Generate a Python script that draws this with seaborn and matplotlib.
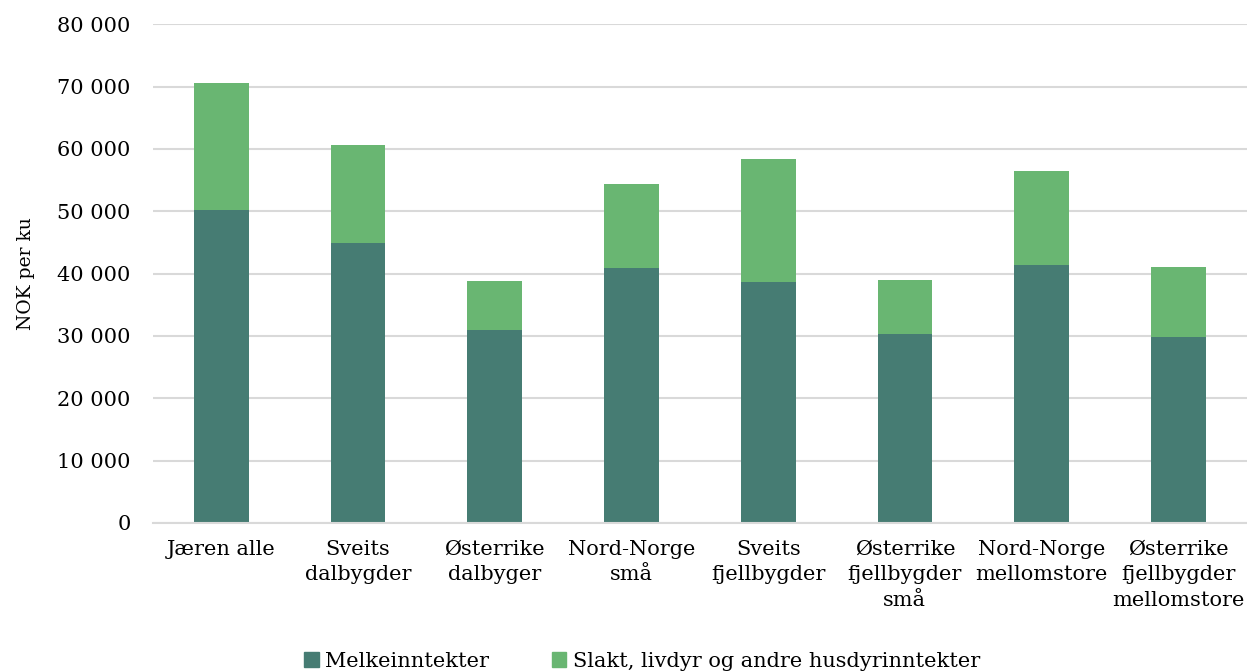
import pandas as pd
import numpy as np
import matplotlib.pyplot as plt
import seaborn as sns
from matplotlib.ticker import FuncFormatter
from matplotlib.patches import Patch

# Data
kategorier = ['Jæren alle', 'Sveits\ndalbygder', 'Østerrike\ndalbyger', 'Nord-Norge\nsmå',
              'Sveits\nfjellbygder', 'Østerrike\nfjellbygder\nsmå', 'Nord-Norge\nmellomstore',
              'Østerrike\nfjellbygder\nmellomstore']
melk = [50200, 44900, 30900, 40900, 38600, 30300, 41300, 29800]
slakt = [20300, 15700, 7900, 13400, 19700, 8600, 15100, 11200]

mork = '#467c73'
lys = '#69b672'

df = pd.DataFrame({'kategori': kategorier, 'melk': melk, 'slakt': slakt})
df['total'] = df['melk'] + df['slakt']

sns.set_style('white')
plt.rcParams['font.family'] = ['DejaVu Serif']
plt.rcParams['text.color'] = 'black'

fig = plt.figure(figsize=(12.47, 6.71), dpi=100)
ax = fig.add_axes([0.1227, 0.2206, 0.877, 0.7434])

# stacked bars: total in light green, milk on top in dark green
sns.barplot(data=df, x='kategori', y='total', color=lys, width=0.4, saturation=1,
            linewidth=0, ax=ax)
sns.barplot(data=df, x='kategori', y='melk', color=mork, width=0.4, saturation=1,
            linewidth=0, ax=ax)

ax.set_ylim(0, 80000)
ax.set_xlim(-0.5, len(kategorier) - 0.5)
ax.set_yticks(np.arange(0, 80001, 10000))
ax.yaxis.set_major_formatter(FuncFormatter(lambda v, p: f'{int(v):,}'.replace(',', ' ')))
ax.grid(axis='y', color='#d9d9d9', linewidth=1.5)
ax.set_axisbelow(True)
for s in ['top', 'right', 'left']:
    ax.spines[s].set_visible(False)
ax.spines['bottom'].set_color('#d9d9d9')
ax.spines['bottom'].set_linewidth(1.5)
ax.tick_params(axis='both', length=0, labelsize=15, colors='black')
ax.tick_params(axis='y', pad=16)
ax.tick_params(axis='x', pad=12)
for lbl in ax.get_xticklabels():
    lbl.set_linespacing(1.45)
ax.set_xlabel('')
ax.set_ylabel('NOK per ku', fontsize=13.5, labelpad=16, color='black')

handles = [Patch(color=mork, label='Melkeinntekter'),
           Patch(color=lys, label='Slakt, livdyr og andre husdyrinntekter')]
fig.legend(handles=handles, loc='lower center', bbox_to_anchor=(0.515, -0.028), ncol=2,
           frameon=False, fontsize=15, handlelength=0.7, handleheight=0.7,
           handletextpad=0.3, columnspacing=3.0, labelcolor='black')

fig.savefig('out.png', dpi=100)
